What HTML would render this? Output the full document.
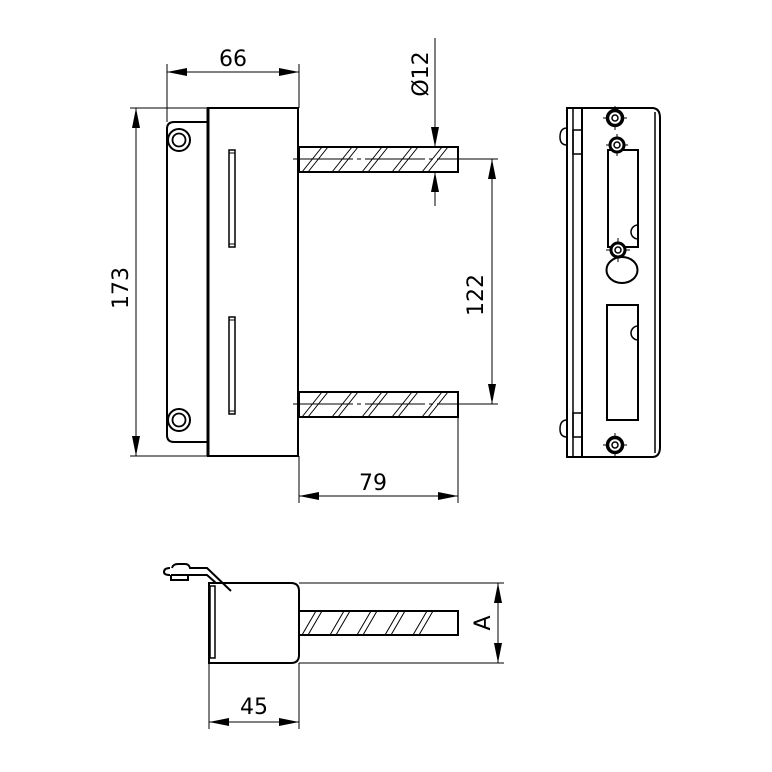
<!DOCTYPE html>
<html><head><meta charset="utf-8"><style>html,body{margin:0;padding:0;background:#fff}svg{display:block}</style></head>
<body>
<svg width="772" height="772" viewBox="0 0 772 772" xmlns="http://www.w3.org/2000/svg" font-family="'DejaVu Sans','Liberation Sans',sans-serif">
<defs>
<marker id="a" viewBox="0 0 20 8" refX="20" refY="4" markerWidth="20" markerHeight="8" markerUnits="userSpaceOnUse" orient="auto-start-reverse"><path d="M0,0 L20,4 L0,8 Z" fill="#000"/></marker>
</defs>
<g stroke="#000" fill="none">
<g stroke-width="1">
<line x1="167" y1="64" x2="167" y2="122"/>
<line x1="299" y1="64" x2="299" y2="108"/>
<line x1="167" y1="72" x2="299" y2="72" marker-start="url(#a)" marker-end="url(#a)"/>
<line x1="130" y1="108" x2="207" y2="108"/>
<line x1="130" y1="456" x2="207" y2="456"/>
<line x1="136" y1="108" x2="136" y2="456" marker-start="url(#a)" marker-end="url(#a)"/>
<line x1="435" y1="38" x2="435" y2="147" marker-end="url(#a)"/>
<line x1="435" y1="206" x2="435" y2="172" marker-end="url(#a)"/>
<line x1="458" y1="159" x2="498" y2="159"/>
<line x1="458" y1="404" x2="498" y2="404"/>
<line x1="492" y1="159" x2="492" y2="404" marker-start="url(#a)" marker-end="url(#a)"/>
<line x1="299" y1="456" x2="299" y2="503"/>
<line x1="458" y1="417" x2="458" y2="503"/>
<line x1="299" y1="496" x2="458" y2="496" marker-start="url(#a)" marker-end="url(#a)"/>
<line x1="293" y1="159" x2="500" y2="159" stroke-dasharray="60 4 4 4"/>
<line x1="293" y1="404" x2="500" y2="404" stroke-dasharray="60 4 4 4"/>
</g>
<path d="M207,122 L174,122 Q167,122 167,129 L167,435 Q167,442 174,442 L207,442" stroke-width="2"/>
<rect x="208" y="108" width="90" height="348" stroke-width="2"/>
<line x1="208" y1="108" x2="208" y2="456" stroke-width="3"/>
<circle cx="179" cy="140" r="11" stroke-width="2"/><circle cx="179" cy="140" r="6.5" stroke-width="1.8"/>
<circle cx="179" cy="420" r="11" stroke-width="2"/><circle cx="179" cy="420" r="6.5" stroke-width="1.8"/>
<rect x="229" y="150" width="6" height="97" stroke-width="1.5"/><line x1="229" y1="153" x2="235" y2="153" stroke-width="1"/><line x1="229" y1="244" x2="235" y2="244" stroke-width="1"/>
<rect x="229" y="317" width="6" height="97" stroke-width="1.5"/><line x1="229" y1="320" x2="235" y2="320" stroke-width="1"/><line x1="229" y1="411" x2="235" y2="411" stroke-width="1"/>
<rect x="299" y="147" width="159" height="25" stroke-width="2"/>
<rect x="299" y="392" width="159" height="25" stroke-width="2"/>
<g stroke-width="1">
<path d="M302,172 L322,147 M308,172 L328,147 M332,172 L352,147 M338,172 L358,147 M362,172 L382,147 M368,172 L388,147 M392,172 L412,147 M398,172 L418,147 M422,172 L442,147 M428,172 L448,147"/>
<path d="M302,417 L322,392 M308,417 L328,392 M332,417 L352,392 M338,417 L358,392 M362,417 L382,392 M368,417 L388,392 M392,417 L412,392 M398,417 L418,392 M422,417 L442,392 M428,417 L448,392"/>
</g>
<path d="M567,108 L652,108 Q660,108 660,118 L660,447 Q660,457 652,457 L567,457 Z" stroke-width="2"/>
<line x1="573" y1="108" x2="573" y2="457" stroke-width="1.5"/>
<line x1="582" y1="108" x2="582" y2="457" stroke-width="2"/>
<line x1="655" y1="112" x2="655" y2="453" stroke-width="1.5"/>
<path d="M567,128 Q560,128 560,137 Q560,145 567,145" stroke-width="1.5"/><rect x="573" y="130" width="9" height="24" stroke-width="1.5"/>
<path d="M567,420 Q560,420 560,429 Q560,437 567,437" stroke-width="1.5"/><rect x="573" y="413" width="9" height="24" stroke-width="1.5"/>
<rect x="608" y="150" width="30" height="97" stroke-width="2"/>
<path d="M638,225 A7,7 0 0 0 638,239" stroke-width="1.5"/>
<rect x="607" y="305" width="31" height="115" stroke-width="2"/>
<path d="M638,326 A7,7 0 0 0 638,340" stroke-width="1.5"/>
<ellipse cx="622" cy="270" rx="15.5" ry="13" stroke-width="2"/>
<g stroke-width="1">
<path d="M603,118 H627 M615,106 V130"/><path d="M606,145 H628 M617,134 V156"/><path d="M606,250 H630 M618,238 V262"/><path d="M603,445 H627 M615,433 V457"/>
</g>
<circle cx="615" cy="118" r="7.5" stroke-width="3.5" fill="#fff"/><circle cx="615" cy="118" r="3" stroke-width="1.5"/>
<circle cx="617" cy="145" r="7" stroke-width="3" fill="#fff"/><circle cx="617" cy="145" r="3" stroke-width="1.5"/>
<circle cx="618" cy="250" r="7" stroke-width="3" fill="#fff"/><circle cx="618" cy="250" r="3" stroke-width="1.5"/>
<circle cx="615" cy="445" r="7.5" stroke-width="3.5" fill="#fff"/><circle cx="615" cy="445" r="3" stroke-width="1.5"/>
<g stroke-width="1">
<line x1="299" y1="583" x2="504" y2="583"/>
<line x1="299" y1="663" x2="504" y2="663"/>
<line x1="498" y1="583" x2="498" y2="663" marker-start="url(#a)" marker-end="url(#a)"/>
<line x1="209" y1="663" x2="209" y2="729"/>
<line x1="299" y1="663" x2="299" y2="729"/>
<line x1="209" y1="722" x2="299" y2="722" marker-start="url(#a)" marker-end="url(#a)"/>
</g>
<path d="M209,583 L291,583 Q299,583 299,591 L299,655 Q299,663 291,663 L209,663 Z" stroke-width="2"/>
<rect x="210" y="586" width="5" height="72" stroke-width="1.5"/>
<rect x="299" y="611" width="159" height="24" stroke-width="2"/>
<path stroke-width="1" d="M302,635 L316,611 M308,635 L322,611 M330,635 L344,611 M336,635 L350,611 M357,635 L371,611 M363,635 L377,611 M385,635 L399,611 M391,635 L405,611 M413,635 L427,611 M419,635 L433,611"/>
<path stroke-width="2" d="M172,568 Q173,564 178,564 L185,564 Q189,564 190,568 L207,568 L231,591 M171,575 L207,575 L216,583"/>
<path stroke-width="2" d="M170,568 Q164,568 164,572 Q164,575 170,575 M171,575 L171,580 L188,580 L188,575"/>
</g>
<g fill="#000" font-size="22">
<text x="233" y="66" text-anchor="middle">66</text>
<text x="373" y="490" text-anchor="middle">79</text>
<text x="254" y="714" text-anchor="middle">45</text>
<text transform="translate(128,288) rotate(-90)" text-anchor="middle">173</text>
<text transform="translate(483,295) rotate(-90)" text-anchor="middle">122</text>
<text transform="translate(428,74) rotate(-90)" text-anchor="middle">Ø12</text>
<text transform="translate(490,623) rotate(-90)" text-anchor="middle">A</text>
</g>
</svg>
</body></html>
